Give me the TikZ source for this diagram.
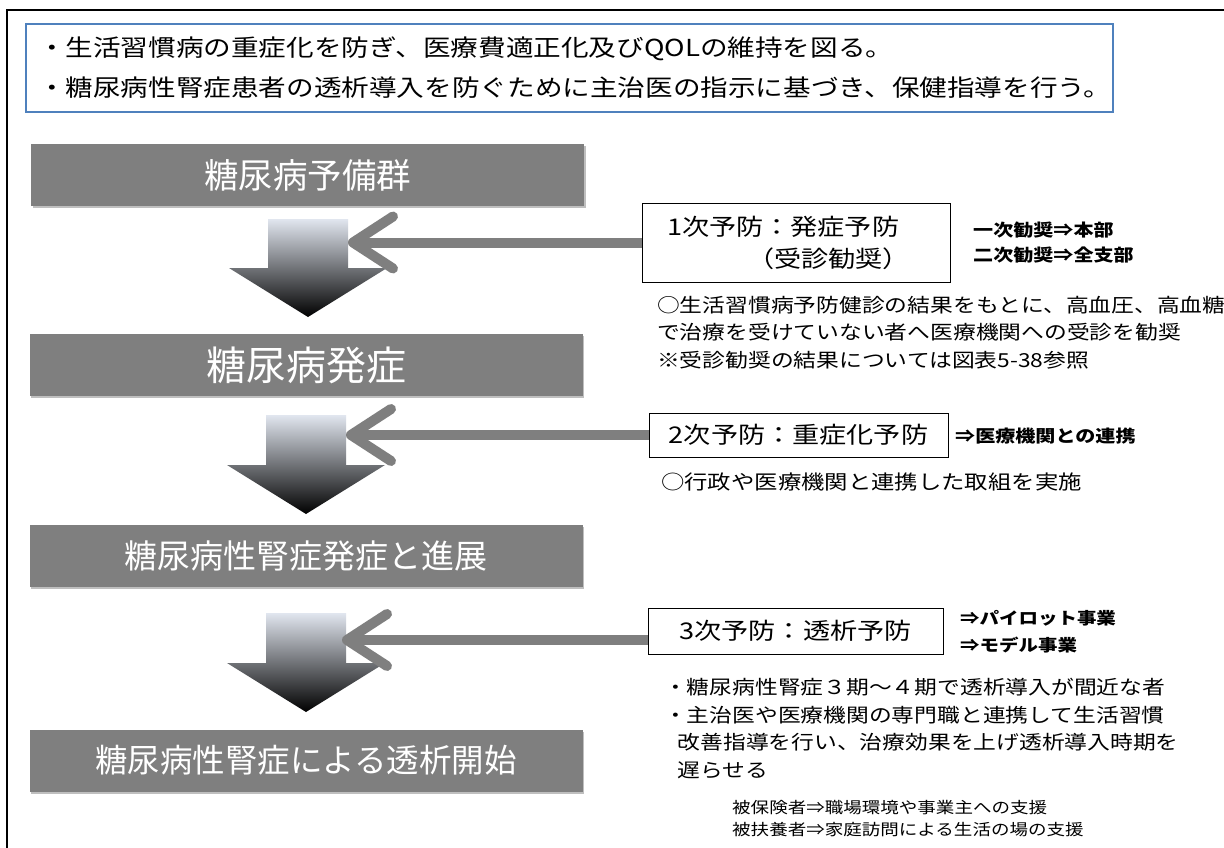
\documentclass[tikz,border=0pt]{standalone}
\usepackage{fontspec}
\newfontfamily\jp{Noto Sans CJK JP}
\newfontfamily\jpw{Noto Sans CJK JP}[FakeStretch=1.18]
\usetikzlibrary{arrows.meta,shadows}
\definecolor{boxgray}{HTML}{7F7F7F}
\definecolor{frameblue}{HTML}{4F81BD}
\definecolor{arrowtop}{HTML}{E1E6EF}
\newcommand\gradarrow[3]{%
  \shade[top color=arrowtop, bottom color=black]
    (#1-40,#2) -- (#1+40,#2) -- (#1+40,#3-49) -- (#1+79,#3-49)
    -- (#1,#3) -- (#1-79,#3-49) -- (#1-40,#3-49) -- cycle;}
\begin{document}
\begin{tikzpicture}[x=1pt,y=-1pt, font=\jpw,
  stage/.style={fill=boxgray, text=white, minimum width=553pt, minimum height=62pt, inner sep=0pt,
    drop shadow={shadow xshift=1.5pt, shadow yshift=-2pt, opacity=0.25, fill=black}},
  prevbox/.style={draw=black, line width=1pt, fill=white, inner sep=0pt},
  conn/.style={draw=boxgray, line width=10pt, -{Straight Barb[length=40pt,width=52pt,round]}},
  txt/.style={inner sep=0pt, anchor=west, align=left},
]
\useasboundingbox (0,0) rectangle (1224,848);
\fill[white] (0,0) rectangle (1224,848);
% outer frame
\draw[line width=2pt] (1230,10) -- (7,10) -- (7,860);
% goal box
\node[draw=frameblue, line width=2.8pt, minimum width=1087pt, minimum height=88pt,
  text width=1063pt, inner xsep=12pt, inner ysep=0pt, align=left,
  font=\jpw\fontsize{23.4}{40}\selectfont] (goal) at (569.5,68)
  {・生活習慣病の重症化を防ぎ、医療費適正化及びQOLの維持を図る。\\
   ・糖尿病性腎症患者の透析導入を防ぐために主治医の指示に基づき、保健指導を行う。};
% stages
\node[stage, font=\jp\fontsize{34.5}{40}\selectfont] (s1) at (307.5,175) {糖尿病予備群};
\node[stage, font=\jp\fontsize{40}{46}\selectfont] (s2) at (306,365) {糖尿病発症};
\node[stage, font=\jp\fontsize{33}{38}\selectfont] (s3) at (306,556) {糖尿病性腎症発症と進展};
\node[stage, font=\jp\fontsize{32.5}{38}\selectfont] (s4) at (306,760.5) {糖尿病性腎症による透析開始};
% gradient arrows
\gradarrow{308}{219}{317}
\gradarrow{306}{415}{514}
\gradarrow{306}{613}{712}
% prevention boxes
\node[prevbox, minimum width=308pt, minimum height=79pt, text width=258pt, inner xsep=0pt,
  align=left, font=\jpw\fontsize{23}{32}\selectfont] (p1) at (796,242.5)
  {1次予防：発症予防\\\hspace*{80pt}（受診勧奨）};
\node[prevbox, minimum width=299pt, minimum height=44pt, font=\jpw\fontsize{23}{28}\selectfont]
  (p2) at (798.5,435) {2次予防：重症化予防};
\node[prevbox, minimum width=295pt, minimum height=46pt, font=\jpw\fontsize{23}{28}\selectfont]
  (p3) at (795.5,631) {3次予防：透析予防};
% connectors
\coordinate (a1) at (348,242.5);
\coordinate (a2) at (346,435);
\coordinate (a3) at (342,640);
\draw[conn] (p1.west) -- (a1);
\draw[conn] (p2.west) -- (a2);
\draw[conn] (a3 -| p3.west) -- (a3);
% side notes
\node[txt, font=\jpw\bfseries\fontsize{17}{25}\selectfont] (n1) at (973,242.5)
  {一次勧奨⇒本部\\二次勧奨⇒全支部};
\node[txt, font=\jpw\bfseries\fontsize{17}{22}\selectfont] (n2) at (955,436)
  {⇒医療機関との連携};
\node[txt, font=\jpw\bfseries\fontsize{16.5}{27}\selectfont] (n3) at (960,631.5)
  {⇒パイロット事業\\⇒モデル事業};
% descriptions
\node[txt, font=\jpw\fontsize{19.3}{27.5}\selectfont] (d1) at (657,332.5)
  {○生活習慣病予防健診の結果をもとに、高血圧、高血糖\\
   で治療を受けていない者へ医療機関への受診を勧奨\\
   ※受診勧奨の結果については図表5-38参照};
\node[txt, font=\jpw\fontsize{19.8}{26}\selectfont] (d2) at (661,482)
  {○行政や医療機関と連携した取組を実施};
\node[txt, font=\jpw\fontsize{19.3}{27.7}\selectfont] (d3) at (664,728.5)
  {・糖尿病性腎症３期～４期で透析導入が間近な者\\
   ・主治医や医療機関の専門職と連携して生活習慣\\
   \hspace*{0.7em}改善指導を行い、治療効果を上げ透析導入時期を\\
   \hspace*{0.7em}遅らせる};
\node[txt, font=\jpw\fontsize{15.7}{22}\selectfont] (d4) at (732,819)
  {被保険者⇒職場環境や事業主への支援\\
   被扶養者⇒家庭訪問による生活の場の支援};
\end{tikzpicture}
\end{document}
